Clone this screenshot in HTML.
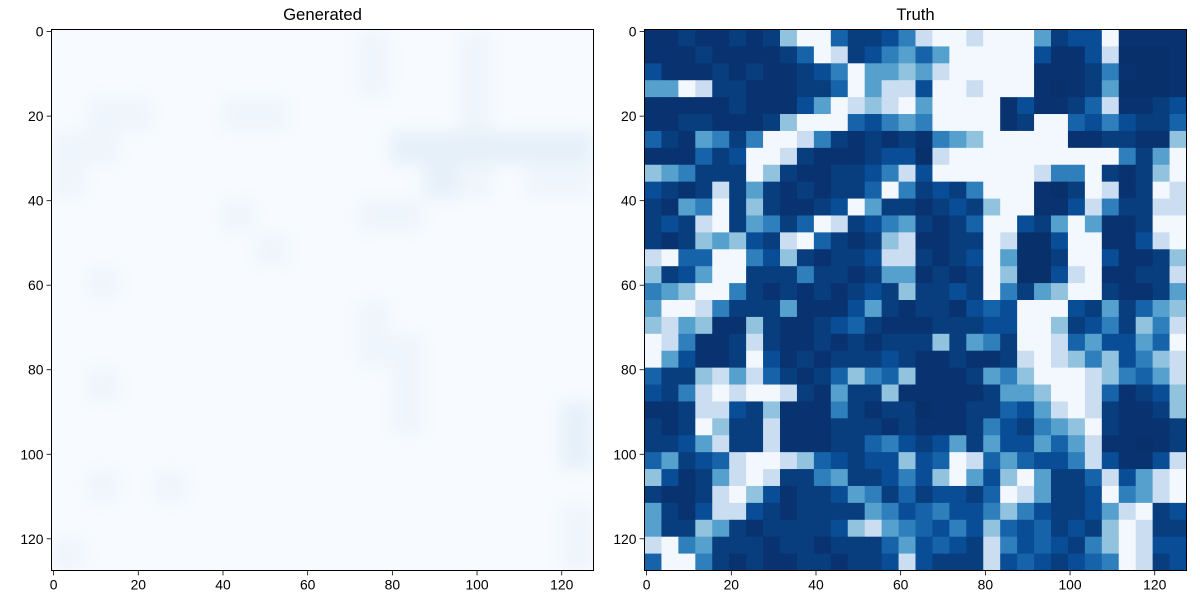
<!DOCTYPE html>
<html><head><meta charset="utf-8">
<style>
html,body{margin:0;padding:0;background:#fff;}
svg text{font-family:"Liberation Sans","DejaVu Sans",sans-serif;fill:#000;}
</style></head>
<body>
<svg id="fig" width="1200" height="600" viewBox="0 0 1200 600" xmlns="http://www.w3.org/2000/svg">
<defs>
<filter id="soft" x="0" y="0" width="1" height="1"><feGaussianBlur stdDeviation="8"/></filter>
<clipPath id="clipL"><rect x="51.5" y="29.5" width="542" height="541"/></clipPath>
</defs>
</svg>
<script>
// ---- data ----
const tickValues = [0, 20, 40, 60, 80, 100, 120];
const panelTitles = ["Generated", "Truth"];
const truthRows = [
"11211212799422358998999623391111",
"11121111249823564699999311380001",
"31112121123596676899999111251001",
"66982211122496883998999101260001",
"11111211136987896999913112481123",
"11221112799943565999912994353224",
"42165259985212121567999991122117",
"11142399821112330899999999995269",
"76522297211223583999999855921279",
"32128262121224952325999102981298",
"21659272112396221232799113852288",
"23289265249823562124993269611299",
"21276732894212781122980039911389",
"89449953721223882123960029931127",
"72369922252212661212970038911228",
"56799521212123272232952679921126",
"69985222611136212213439993262467",
"78671172112342111222339972352758",
"98511282112121222726529984633649",
"96311293121222321121128987573578",
"42278684212475471112657999875468",
"32589899821622711111266799841237",
"11288327111521220112243689821127",
"21297228111222121112532567921112",
"22368228111224532362633646811012",
"46234899874323373498464335831138",
"73126898225622353796379622483689",
"21128973122365242332498622395689",
"62138832122226534533575322368923",
"62276212222378654353743423279822",
"89562221221222463432853432579833",
"49952121122122383222834323459823"
];
const generatedRows = [
"0000000001001000",
"0000000001001000",
"0110011000001000",
"1100000000222222",
"1000000000021011",
"0000010001100000",
"0000001000000000",
"0100000000000000",
"0000000001000000",
"0000000001100000",
"0100000000100000",
"0000000000100002",
"0000000000000002",
"0101000000000000",
"0000000000000001",
"1000000000000001"
];
// ---- helpers ----
const NS = "http://www.w3.org/2000/svg";
const svg = document.getElementById("fig");
const N = 128;
const panels = [{x0:51.5,y0:29.5,w:542,h:541},{x0:644.5,y0:29.5,w:542,h:541}];
function sx(p,v){return p.x0 + (v+0.5)/N*p.w;}
function sy(p,v){return p.y0 + (v+0.5)/N*p.h;}
function edgeX(p,v){return p.x0 + v/N*p.w;}
function edgeY(p,v){return p.y0 + v/N*p.h;}
const stops=[[8,48,107],[8,81,156],[33,113,181],[66,146,198],[107,174,214],[158,202,225],[198,219,239],[222,235,247],[247,251,255]];
function blues(t){ // t: 0 white .. 1 dark
  const u=(1-t)*(stops.length-1); const i=Math.min(stops.length-2,Math.floor(u)); const f=u-i;
  const c=stops[i].map((a,k)=>Math.round(a+(stops[i+1][k]-a)*f));
  return "rgb("+c.join(",")+")";
}
function mk(tag,attrs,parent){const e=document.createElementNS(NS,tag);for(const k in attrs)e.setAttribute(k,attrs[k]);(parent||svg).appendChild(e);return e;}

// ---- Generated heatmap ----
(function(){
  const p=panels[0];
  const g=mk("g",{"clip-path":"url(#clipL)"});
  
  
  mk("rect",{x:p.x0,y:p.y0,width:p.w,height:p.h,fill:"#f7fbff"},g);
  const inner=mk("g",{filter:"url(#soft)"},g);
  const gc=["#f7fbff","#eff5fc","#e6f0f9","#dce9f6"];
  const n=generatedRows.length, cs=N/n;
  generatedRows.forEach((row,r)=>{for(let c=0;c<row.length;c++){const v=+row[c]; if(!v)continue;
    const cell=mk("rect",{x:edgeX(p,c*cs),y:edgeY(p,r*cs),width:p.w/n+0.5,height:p.h/n+0.5,fill:gc[v]},inner);
    
    
  }});
})();

// ---- Truth heatmap ----
(function(){
  const p=panels[1];
  const g=mk("g",{});
  
  
  const n=truthRows.length, cs=N/n;
  truthRows.forEach((row,r)=>{for(let c=0;c<n;c++){const v=+(row[c]||"1");
    const s=v/9, t=1-s*s*0.98;
    const cell=mk("rect",{x:edgeX(p,c*cs),y:edgeY(p,r*cs),width:p.w/n+0.4,height:p.h/n+0.4,fill:blues(t)},g);
    
    
  }});
})();

// ---- axes ----
panels.forEach((p,i)=>{
  const fr=mk("rect",{x:p.x0,y:p.y0,width:p.w,height:p.h,fill:"none",stroke:"#000","stroke-width":1});
  
  
  const t=mk("text",{x:p.x0+p.w/2,y:20,"text-anchor":"middle","font-size":"16.7px"});
  t.textContent=panelTitles[i];
  
  
  tickValues.forEach(v=>{
    const X=sx(p,v), Y=sy(p,v);
    mk("line",{x1:X,x2:X,y1:p.y0+p.h,y2:p.y0+p.h+4.9,stroke:"#000","stroke-width":0.8});
    const xl=mk("text",{x:X,y:p.y0+p.h+19,"text-anchor":"middle","font-size":"13.9px"});
    xl.textContent=v;
    
    
    mk("line",{x1:p.x0-4.9,x2:p.x0,y1:Y,y2:Y,stroke:"#000","stroke-width":0.8});
    const yl=mk("text",{x:p.x0-8,y:Y+5,"text-anchor":"end","font-size":"13.9px"});
    yl.textContent=v;
    
    
  });
});
</script>
</body></html>
